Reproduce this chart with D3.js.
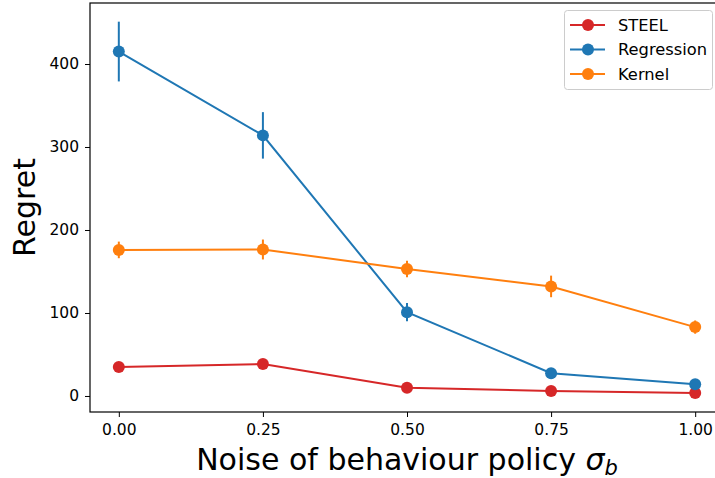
<!DOCTYPE html>
<html><head><meta charset="utf-8">
<script src="https://cdn.jsdelivr.net/npm/d3@7/dist/d3.min.js"></script>
<style>body{margin:0;background:#fff}svg{display:block}text{font-family:"DejaVu Sans",sans-serif}</style>
</head><body><svg id="c" width="715" height="478"></svg>
<script>
const xValues = [0.0, 0.25, 0.5, 0.75, 1.0];
const seriesNames = ["STEEL", "Regression", "Kernel"];
const steelMean = [35, 38.5, 10, 6, 3.5];
const steelErr = [2, 2, 2, 1.5, 1];
const regressionMean = [415, 314, 101, 27.5, 14];
const regressionErr = [36, 28, 11, 2, 2];
const kernelMean = [176, 176.5, 153, 132, 83];
const kernelErr = [10, 12, 10, 13, 8];
const xTicks = [0.0, 0.25, 0.5, 0.75, 1.0];
const yTicks = [0, 100, 200, 300, 400];
const colors = ["#d62728", "#1f77b4", "#ff7f0e"];

const series = [
  {name: seriesNames[0], mean: steelMean, err: steelErr, color: colors[0]},
  {name: seriesNames[1], mean: regressionMean, err: regressionErr, color: colors[1]},
  {name: seriesNames[2], mean: kernelMean, err: kernelErr, color: colors[2]}
];

const svg = d3.select("#c");
const L = 90, R = 724, T = 3, B = 412;
const x = d3.scaleLinear().domain([-0.05, 1.05]).range([L, R]);
const y = d3.scaleLinear().domain([-19.3, 473.5]).range([B, T]);

const xAxis = svg.append("g").attr("transform", `translate(0,${B})`)
  .call(d3.axisBottom(x).tickValues(xTicks).tickFormat(d3.format(".2f")).tickSize(5).tickPadding(7));
const yAxis = svg.append("g").attr("transform", `translate(${L},0)`)
  .call(d3.axisLeft(y).tickValues(yTicks).tickFormat(d3.format("d")).tickSize(5).tickPadding(6));
[xAxis, yAxis].forEach(a => {
  a.select(".domain").remove();
  a.selectAll(".tick line").attr("stroke", "#000").attr("stroke-width", 1);
  a.selectAll(".tick text").attr("font-size", 15.5).attr("fill", "#000").attr("font-family", "DejaVu Sans");
});

const plot = svg.append("g");
series.forEach(s => {
  const g = plot.append("g");
  const pts = xValues.map((v, i) => ({x: v, m: s.mean[i], e: s.err[i]}));
  g.selectAll("line.err").data(pts).join("line")
    .attr("x1", d => x(d.x)).attr("x2", d => x(d.x))
    .attr("y1", d => y(d.m - d.e)).attr("y2", d => y(d.m + d.e))
    .attr("stroke", s.color).attr("stroke-width", 2);
  g.append("path").datum(pts)
    .attr("d", d3.line().x(d => x(d.x)).y(d => y(d.m)))
    .attr("fill", "none").attr("stroke", s.color).attr("stroke-width", 2);
  g.selectAll("circle").data(pts).join("circle")
    .attr("cx", d => x(d.x)).attr("cy", d => y(d.m)).attr("r", 6)
    .attr("fill", s.color);
});

// spines
svg.append("rect").attr("x", L).attr("y", T).attr("width", R - L).attr("height", B - T)
  .attr("fill", "none").attr("stroke", "#000").attr("stroke-width", 1.2);

// legend
const lg = svg.append("g");
lg.append("rect").attr("x", 564.5).attr("y", 10.5).attr("width", 148).attr("height", 79)
  .attr("rx", 3).attr("fill", "#fff").attr("fill-opacity", 0.8).attr("stroke", "#ccc").attr("stroke-width", 1);
series.forEach((s, i) => {
  const yy = 25 + i * 24.5;
  lg.append("line").attr("x1", 570).attr("x2", 605).attr("y1", yy).attr("y2", yy)
    .attr("stroke", s.color).attr("stroke-width", 2);
  lg.append("circle").attr("cx", 588).attr("cy", yy).attr("r", 6).attr("fill", s.color);
  lg.append("text").attr("x", 618).attr("y", yy + 5.5).attr("font-size", 16.3).text(s.name);
});

// labels
svg.append("text").attr("x", (L + R) / 2).attr("y", 470).attr("text-anchor", "middle")
  .attr("font-size", 30).html('Noise of behaviour policy <tspan font-style="italic">σ</tspan><tspan font-style="italic" font-size="21" dy="5">b</tspan>');
svg.append("text").attr("transform", `translate(35,${(T + B) / 2}) rotate(-90)`)
  .attr("text-anchor", "middle").attr("font-size", 30).text("Regret");
</script></body></html>
